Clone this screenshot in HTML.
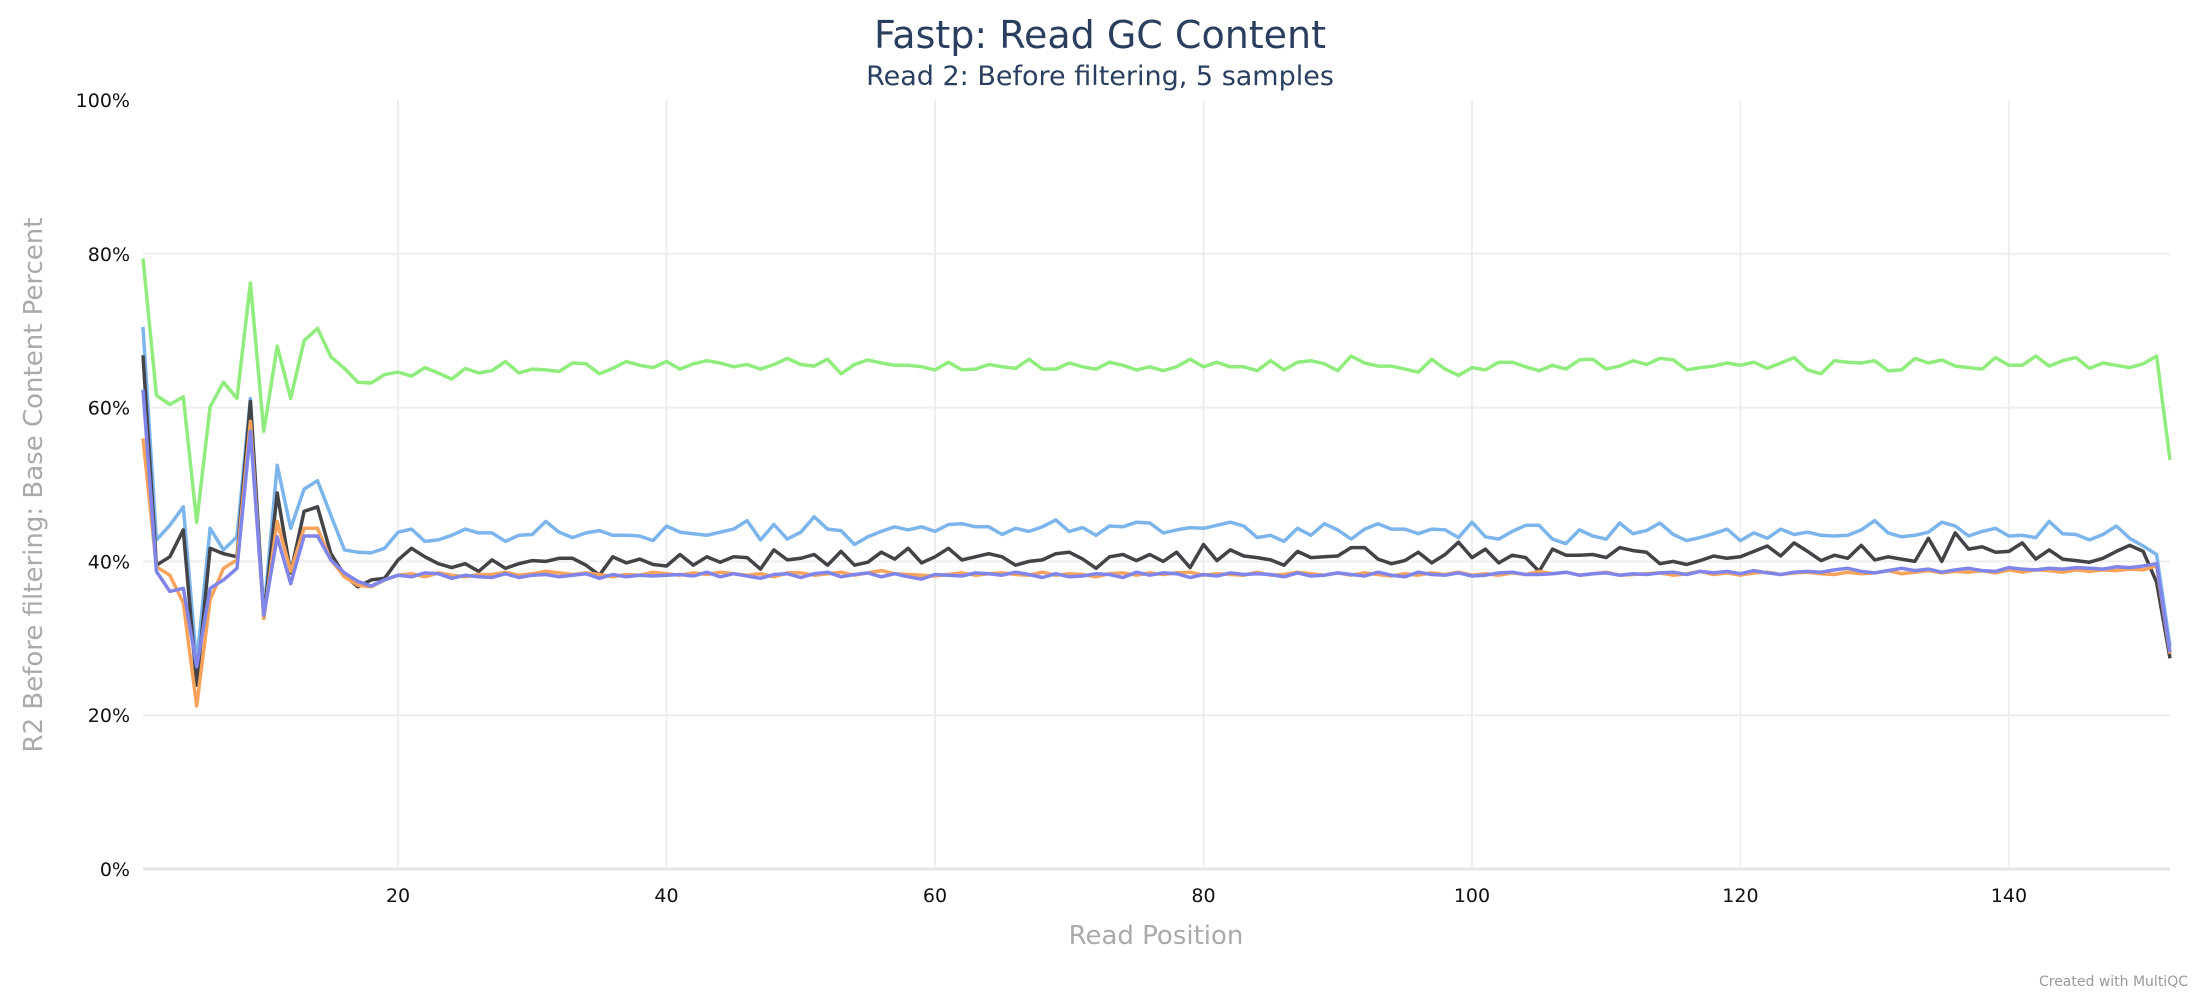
<!DOCTYPE html>
<html><head><meta charset="utf-8">
<style>
html,body{margin:0;padding:0;background:#fff;}
svg{display:block;font-family:"DejaVu Sans","Liberation Sans",sans-serif;}
</style></head>
<body>
<svg id="chart" width="2200" height="1000" viewBox="0 0 2200 1000">
<text x="1100" y="48" text-anchor="middle" font-size="38" fill="#2a3f5f">Fastp: Read GC Content</text>
<text x="1100" y="85" text-anchor="middle" font-size="27" fill="#2a3f5f">Read 2: Before filtering, 5 samples</text>
<g id="grid"></g>
<g id="yticks"></g>
<g id="xticks"></g>
<g id="series"></g>
<text transform="translate(42,485) rotate(-90)" text-anchor="middle" font-size="26" fill="#aaaaaa">R2 Before filtering: Base Content Percent</text>
<text x="1156" y="944" text-anchor="middle" font-size="26" fill="#aaaaaa">Read Position</text>
<text x="2188" y="986" text-anchor="end" font-size="14" fill="#999">Created with MultiQC</text>
</svg>
<script>
const yTicks = [0,20,40,60,80,100];
const xTicks = [20,40,60,80,100,120,140];
const seriesColors = ["#90ed7d","#7cb5ec","#434348","#f7a35c","#8085e9"];
const greenSeries = [79.4,61.6,60.4,61.4,45.1,60.1,63.3,61.2,76.2,56.9,68.0,61.2,68.7,70.3,66.6,65.1,63.3,63.2,64.3,64.6,64.1,65.2,64.5,63.7,65.1,64.5,64.8,66.0,64.5,65.0,64.9,64.7,65.8,
65.7,64.4,65.1,66.0,65.5,65.2,66.0,65.0,65.7,66.1,65.8,65.3,65.6,65.0,65.6,66.4,65.6,65.4,66.3,64.4,65.6,66.2,65.8,65.5,65.5,65.3,64.9,65.9,64.9,65.0,65.6,65.3,65.1,66.3,65.0,65.0,65.8,65.3,65.0,65.9,65.5,64.9,65.3,64.8,65.3,66.3,65.3,65.9,65.3,65.3,64.8,66.1,64.9,65.9,66.1,65.7,64.8,66.7,65.8,65.4,65.4,65.0,64.6,66.3,65.0,64.2,65.2,64.9,65.9,65.9,65.3,64.8,65.5,65.0,66.2,66.3,65.0,65.4,66.1,65.6,66.4,66.2,64.9,65.2,65.4,65.8,65.5,65.9,65.1,65.8,66.5,64.9,64.4,66.1,65.9,65.8,66.1,64.8,64.9,66.4,65.8,66.2,65.4,65.2,65.0,66.5,65.5,65.5,66.7,65.4,66.1,66.5,65.1,65.8,65.5,65.2,65.7,66.7,53.2];
const blueSeries = [70.5,42.8,44.7,47.1,26.7,44.3,41.5,43.2,61.2,33.2,52.5,44.3,49.4,50.5,46.0,41.5,41.2,41.1,41.7,43.8,44.2,42.6,42.8,43.4,44.2,43.7,43.7,42.6,43.4,43.5,45.2,43.8,43.1,
43.7,44.0,43.4,43.4,43.3,42.7,44.6,43.8,43.6,43.4,43.8,44.2,45.3,42.8,44.8,42.9,43.8,45.8,44.2,44.0,42.2,43.2,43.9,44.5,44.1,44.5,43.9,44.8,44.9,44.5,44.5,43.5,44.3,43.9,44.5,45.4,43.9,44.4,43.4,44.6,44.5,45.1,45.0,43.7,44.1,44.4,44.3,44.7,45.1,44.6,43.1,43.4,42.6,44.3,43.4,44.9,44.1,42.9,44.2,44.9,44.2,44.2,43.6,44.2,44.1,43.1,45.1,43.2,42.9,43.9,44.7,44.7,42.9,42.3,44.1,43.3,42.9,45.0,43.6,44.0,45.0,43.5,42.7,43.1,43.6,44.2,42.7,43.7,43.0,44.2,43.5,43.8,43.4,43.3,43.4,44.1,45.3,43.7,43.2,43.4,43.8,45.1,44.6,43.3,43.9,44.3,43.3,43.4,43.1,45.2,43.6,43.5,42.8,43.5,44.6,43.0,42.0,40.9,29.0];
const blackSeries = [66.8,39.5,40.6,44.1,23.9,41.7,41.0,40.6,60.8,32.6,48.9,38.5,46.5,47.1,41.0,38.2,36.7,37.6,37.8,40.2,41.7,40.6,39.7,39.2,39.7,38.7,40.2,39.1,39.7,40.1,40.0,40.4,40.4,
39.5,38.2,40.6,39.8,40.3,39.6,39.4,40.9,39.5,40.6,39.9,40.6,40.5,39.0,41.5,40.2,40.4,40.9,39.5,41.3,39.5,39.9,41.2,40.3,41.7,39.8,40.6,41.7,40.2,40.6,41.0,40.6,39.5,40.0,40.2,41.0,41.2,40.3,39.1,40.6,40.9,40.1,40.9,40.0,41.2,39.2,42.2,40.1,41.5,40.7,40.5,40.2,39.5,41.3,40.5,40.6,40.7,41.8,41.8,40.3,39.7,40.1,41.2,39.8,40.9,42.5,40.5,41.6,39.8,40.8,40.5,38.7,41.6,40.8,40.8,40.9,40.5,41.8,41.4,41.2,39.7,40.0,39.6,40.1,40.7,40.4,40.6,41.3,42.0,40.7,42.4,41.3,40.1,40.8,40.4,42.1,40.2,40.6,40.3,40.0,43.0,40.0,43.7,41.6,41.9,41.2,41.3,42.4,40.3,41.5,40.3,40.1,39.9,40.4,41.3,42.1,41.3,37.3,27.4];
const orangeSeries = [56.0,39.3,38.2,34.6,21.2,35.0,39.1,40.2,58.2,32.6,45.2,38.7,44.3,44.3,40.2,38.0,36.9,36.7,37.6,38.2,38.4,38.0,38.5,38.2,38.0,38.3,38.3,38.6,38.2,38.4,38.7,38.5,38.3,
38.5,38.3,38.0,38.3,38.2,38.6,38.4,38.2,38.5,38.3,38.6,38.4,38.2,38.4,38.0,38.5,38.5,38.2,38.4,38.6,38.2,38.5,38.8,38.4,38.3,38.2,38.1,38.3,38.5,38.2,38.4,38.5,38.3,38.2,38.6,38.2,38.4,38.3,38.0,38.4,38.5,38.2,38.5,38.3,38.5,38.6,38.2,38.4,38.3,38.2,38.6,38.2,38.3,38.6,38.4,38.2,38.5,38.2,38.5,38.3,38.1,38.4,38.2,38.5,38.3,38.6,38.2,38.4,38.2,38.5,38.3,38.7,38.4,38.6,38.2,38.4,38.6,38.2,38.3,38.4,38.5,38.2,38.4,38.7,38.3,38.5,38.2,38.5,38.6,38.3,38.5,38.6,38.4,38.3,38.6,38.4,38.5,38.8,38.4,38.6,38.8,38.5,38.7,38.6,38.8,38.5,38.9,38.6,38.9,38.8,38.6,38.9,38.7,38.9,38.8,39.0,38.9,39.4,28.0];
const purpleSeries = [62.3,38.7,36.1,36.5,26.3,36.5,37.6,39.1,56.9,33.0,43.2,37.1,43.3,43.3,40.2,38.5,37.4,36.8,37.6,38.2,38.0,38.5,38.4,37.8,38.2,38.0,37.9,38.4,37.9,38.2,38.3,38.0,38.2,
38.4,37.8,38.3,38.0,38.2,38.1,38.2,38.3,38.1,38.6,38.0,38.4,38.1,37.8,38.3,38.4,37.9,38.4,38.6,38.0,38.3,38.5,38.0,38.4,38.0,37.7,38.3,38.2,38.1,38.5,38.4,38.2,38.6,38.3,37.9,38.4,38.0,38.1,38.4,38.3,37.9,38.6,38.2,38.5,38.4,37.9,38.3,38.1,38.5,38.3,38.4,38.3,38.0,38.5,38.1,38.2,38.5,38.3,38.1,38.6,38.2,38.0,38.6,38.3,38.2,38.5,38.1,38.2,38.5,38.6,38.3,38.3,38.4,38.6,38.2,38.4,38.5,38.2,38.4,38.3,38.5,38.6,38.3,38.7,38.5,38.7,38.4,38.8,38.5,38.3,38.6,38.7,38.6,38.9,39.1,38.7,38.5,38.8,39.1,38.8,39.0,38.6,38.9,39.1,38.8,38.7,39.2,39.0,38.9,39.1,39.0,39.2,39.1,39.0,39.3,39.2,39.4,39.7,28.2];
const seriesData = [greenSeries, blueSeries, blackSeries, orangeSeries, purpleSeries];
const seriesNames = ["sample-1","sample-2","sample-3","sample-4","sample-5"];

const NS = "http://www.w3.org/2000/svg";
const X0 = 143, X1 = 2170, Y0 = 869, Y1 = 100;
const xMin = 1, xMax = 152;
function xs(v){ return X0 + (v - xMin) / (xMax - xMin) * (X1 - X0); }
function ys(v){ return Y0 - v / 100 * (Y0 - Y1); }

const grid = document.getElementById('grid');
const yt = document.getElementById('yticks');
const xt = document.getElementById('xticks');
yTicks.forEach(t => {
  if (t !== 100) {
    const l = document.createElementNS(NS,'line');
    l.setAttribute('x1',X0); l.setAttribute('x2',X1);
    l.setAttribute('y1',ys(t)); l.setAttribute('y2',ys(t));
    l.setAttribute('stroke', t===0 ? '#e6e6e6' : '#eeeeee'); l.setAttribute('stroke-width', t===0 ? 3 : 2);
    
    
    grid.appendChild(l);
  }
  const tx = document.createElementNS(NS,'text');
  tx.setAttribute('x',130); tx.setAttribute('y',ys(t)+7);
  tx.setAttribute('text-anchor','end'); tx.setAttribute('font-size','19'); tx.setAttribute('fill','#111');
  tx.textContent = t + '%';
  
  
  yt.appendChild(tx);
});
xTicks.forEach(t => {
  const l = document.createElementNS(NS,'line');
  l.setAttribute('x1',xs(t)); l.setAttribute('x2',xs(t));
  l.setAttribute('y1',Y1); l.setAttribute('y2',Y0);
  l.setAttribute('stroke','#eeeeee'); l.setAttribute('stroke-width',2);
  
  
  grid.appendChild(l);
  const tx = document.createElementNS(NS,'text');
  tx.setAttribute('x',xs(t)); tx.setAttribute('y',902);
  tx.setAttribute('text-anchor','middle'); tx.setAttribute('font-size','19'); tx.setAttribute('fill','#111');
  tx.textContent = t;
  
  
  xt.appendChild(tx);
});
const sg = document.getElementById('series');
seriesData.forEach((arr, i) => {
  const p = document.createElementNS(NS,'polyline');
  p.setAttribute('points', arr.map((v,k) => xs(k+1).toFixed(1)+','+ys(v).toFixed(1)).join(' '));
  p.setAttribute('fill','none'); p.setAttribute('stroke',seriesColors[i]);
  p.setAttribute('stroke-width',3.5); p.setAttribute('stroke-linejoin','round');
  
  
  sg.appendChild(p);
});
</script>
</body></html>
